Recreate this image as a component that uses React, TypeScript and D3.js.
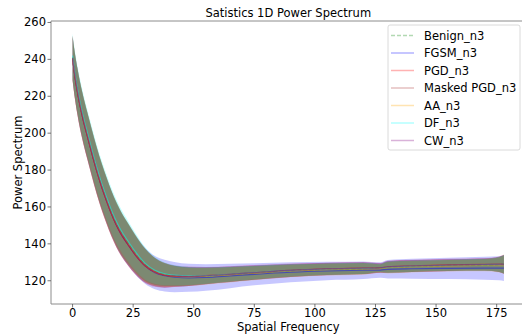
import React from "react";
import * as d3 from "d3";

const freqs = [0,1,2,3,4,5,6,8,10,12,14,16,18,20,23,26,30,34,38,42,48,55,65,75,90,105,120,127,130,140,155,170,176,178];

const seriesNames = ["Benign_n3","FGSM_n3","PGD_n3","Masked PGD_n3","AA_n3","DF_n3","CW_n3"];
const seriesColors = ["green","blue","red","brown","orange","cyan","purple"];
const fillOrder = [6,2,3,1,5,4,0];

const benignMean = [241,231,223,216,210,204.5,199.5,189.5,180,171.5,164,157,151,146,140,134.5,128.5,125,123.3,122.6,122.3,122.6,123.4,124.3,125.5,126.2,126.6,126.8,127.3,127.8,128.3,128.6,128.8,128.9];
const benignStd = [12,12.2,12.4,12.5,12.5,12.5,12.5,12.5,12.5,12.4,12.3,12.1,11.9,11.6,11,10.2,8.8,7.3,6.2,5.5,4.9,4.4,4,3.7,3.3,3.1,3,2.2,3,3,3,3.2,4,5];

const fgsmMean = [240.8,230.8,222.8,215.7,209.7,204.2,199.2,189.2,179.7,171.2,163.7,156.7,150.7,145.7,139.6,134,128,124.4,122.8,122,121.6,121.8,122.6,123.5,124.6,125.3,125.7,125.8,126.2,126.5,126.7,126.8,126.8,126.8];
const fgsmStd = [12,12.3,12.5,12.6,12.6,12.6,12.6,12.6,12.6,12.5,12.4,12.3,12.1,11.9,11.4,10.8,9.8,9,8.6,8.2,7.6,7.2,6.6,6,5.4,5,4.8,4.2,5,5.4,5.8,6.2,6.5,7];

const pgdMean = [240.5,230.4,222.4,215.3,209.3,203.8,198.8,188.8,179.3,170.8,163.3,156.3,150.3,145.3,139.3,133.8,128,124.6,123,122.5,122.4,122.8,123.6,124.5,125.7,126.4,126.8,127,127.6,128.1,128.6,128.9,129,129];
const pgdStd = [12.1,12.4,12.6,12.7,12.7,12.7,12.7,12.7,12.7,12.6,12.5,12.3,12.1,11.8,11.3,10.6,9.3,7.9,6.8,5.9,5.3,4.7,4.3,4,3.6,3.4,3.3,2.6,3.3,3.3,3.3,3.4,4.2,5.2];

const maskedMean = [240.6,230.5,222.5,215.4,209.4,203.9,198.9,188.9,179.4,170.9,163.4,156.4,150.4,145.4,139.4,133.9,128.1,124.7,123,122.4,122.3,122.7,123.5,124.4,125.6,126.3,126.7,126.9,127.4,127.9,128.4,128.7,128.9,128.9];
const maskedStd = [12,12.3,12.5,12.6,12.6,12.6,12.6,12.6,12.6,12.5,12.4,12.2,12,11.7,11.2,10.4,9.1,7.7,6.6,5.7,5.1,4.6,4.2,3.9,3.5,3.3,3.2,2.5,3.2,3.2,3.2,3.3,4.1,5.1];

const aaMean = [240.9,230.9,222.9,215.9,209.9,204.4,199.4,189.4,179.9,171.4,163.9,156.9,150.9,145.9,139.9,134.3,128.3,124.8,123.1,122.4,122.1,122.4,123.2,124.1,125.3,126,126.4,126.6,127.1,127.6,128.1,128.4,128.6,128.7];
const aaStd = [12,12.3,12.5,12.6,12.6,12.6,12.6,12.6,12.6,12.5,12.4,12.2,12,11.7,11.2,10.4,9.1,7.6,6.5,5.6,5,4.5,4.1,3.8,3.4,3.2,3.1,2.3,3.1,3.1,3.1,3.3,4.1,5];

const dfMean = [242,232.2,224.3,217.4,211.4,205.9,200.9,190.9,181.4,172.9,165.4,158.4,152.4,147.4,141.3,135.6,129.4,125.7,123.8,123,122.6,122.8,123.6,124.5,125.6,126.3,126.7,126.9,127.4,127.9,128.4,128.7,128.9,129];
const dfStd = [12,12.2,12.4,12.5,12.5,12.5,12.5,12.5,12.5,12.4,12.3,12.1,11.9,11.6,11,10.2,8.8,7.3,6.2,5.5,4.9,4.4,4,3.7,3.3,3.1,3,2.2,3,3,3,3.2,4,5];

const cwMean = [240.6,230.5,222.5,215.4,209.4,203.9,198.9,188.9,179.4,170.9,163.4,156.4,150.4,145.4,139.4,133.9,128.1,124.7,123,122.5,122.3,122.7,123.5,124.4,125.6,126.4,126.8,127,127.5,128,128.5,128.8,128.9,128.9];
const cwStd = [12,12.3,12.5,12.6,12.6,12.6,12.6,12.6,12.6,12.5,12.4,12.2,12,11.7,11.2,10.4,9.1,7.7,6.6,5.7,5.1,4.6,4.2,3.9,3.5,3.3,3.2,2.5,3.2,3.2,3.2,3.3,4.1,5.1];

const means = [benignMean, fgsmMean, pgdMean, maskedMean, aaMean, dfMean, cwMean];
const stds = [benignStd, fgsmStd, pgdStd, maskedStd, aaStd, dfStd, cwStd];

const xTicks = [0,25,50,75,100,125,150,175];
const yTicks = [120,140,160,180,200,220,240,260];

const W = 522, H = 336;
const L = 51, R = 525.5, T = 21, B = 304;
const FONT = "DejaVu Sans, sans-serif";
const FS = 11.5;

export default function App() {
  const x = d3.scaleLinear().domain([-8.9, 186.9]).range([L, R]);
  const y = d3.scaleLinear().domain([107.4, 260.8]).range([B, T]);

  const area = (m: number[], s: number[]) =>
    d3.area<number>()
      .x((_, i) => x(freqs[i]))
      .y0((_, i) => y(m[i] - s[i]))
      .y1((_, i) => y(m[i] + s[i]))
      .curve(d3.curveMonotoneX)(m) as string;
  const line = (m: number[]) =>
    d3.line<number>()
      .x((_, i) => x(freqs[i]))
      .y((v) => y(v))
      .curve(d3.curveMonotoneX)(m) as string;

  const legX = 388, legY = 25, legW = 132, legH = 125;

  return (
    <svg width={W} height={H} style={{ position: "absolute", left: 0, top: 0, background: "#fff" }} fontFamily={FONT}>
      <defs>
        <clipPath id="plotclip">
          <rect x={L} y={T} width={R - L} height={B - T} />
        </clipPath>
      </defs>
      <rect x={0} y={0} width={W} height={H} fill="#fff" />
      <g clipPath="url(#plotclip)">
        {fillOrder.map((k) => (
          <path key={"a" + k} d={area(means[k], stds[k])} fill={seriesColors[k]} fillOpacity={0.22} stroke="none" />
        ))}
        {means.map((m, k) => (
          <path key={"l" + k} d={line(m)} fill="none" stroke={seriesColors[k]} strokeOpacity={0.45} strokeWidth={1.2}
            strokeDasharray={k === 0 ? "4,2" : undefined} />
        ))}
      </g>
      <g stroke="#8c8c8c" strokeWidth={1} fill="none">
        <line x1={L} x2={L} y1={T} y2={B} />
        <line x1={L} x2={W} y1={B} y2={B} />
        <line x1={L} x2={W} y1={T} y2={T} />
      </g>
      {xTicks.map((t) => (
        <g key={t}>
          <line x1={x(t)} x2={x(t)} y1={B} y2={B + 3.5} stroke="#555" strokeWidth={0.8} />
          <text x={x(t)} y={317} textAnchor="middle" fontSize={FS} fill="#000">{t}</text>
        </g>
      ))}
      {yTicks.map((t) => (
        <g key={t}>
          <line x1={L - 3.5} x2={L} y1={y(t)} y2={y(t)} stroke="#555" strokeWidth={0.8} />
          <text x={L - 5} y={y(t) + 4} textAnchor="end" fontSize={FS} fill="#000">{t}</text>
        </g>
      ))}
      <text x={(L + R) / 2} y={17} textAnchor="middle" fontSize={FS} fill="#000">Satistics 1D Power Spectrum</text>
      <text x={(L + R) / 2} y={330.5} textAnchor="middle" fontSize={FS} fill="#000">Spatial Frequency</text>
      <text transform={`translate(21.5,${(T + B) / 2}) rotate(-90)`} textAnchor="middle" fontSize={FS} fill="#000">Power Spectrum</text>
      <rect x={legX} y={legY} width={legW} height={legH} rx={2} fill="#fff" fillOpacity={0.8} stroke="#d0d0d0" strokeWidth={0.8} />
      {seriesNames.map((n, k) => {
        const yy = legY + 10.5 + k * 17.5;
        return (
          <g key={n}>
            <line x1={legX + 3} x2={legX + 26} y1={yy} y2={yy} stroke={seriesColors[k]} strokeOpacity={0.3} strokeWidth={1.5}
              strokeDasharray={k === 0 ? "4,2" : undefined} />
            <text x={legX + 36} y={yy + 4} fontSize={FS} fill="#000">{n}</text>
          </g>
        );
      })}
    </svg>
  );
}
